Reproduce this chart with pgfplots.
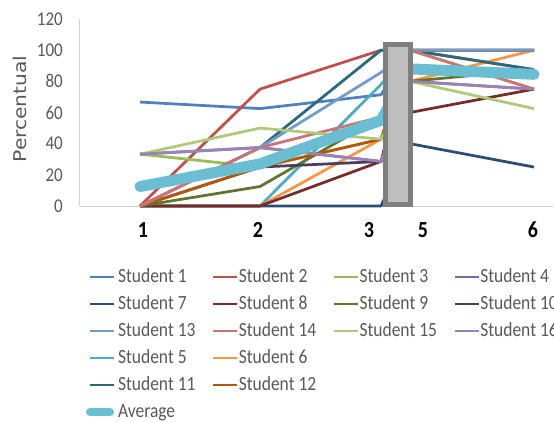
\documentclass[border=0pt]{standalone}
\usepackage{fontspec}
\setmainfont{Carlito}
\newfontfamily\dejavu{DejaVu Sans}
\usepackage{graphicx}
\usepackage{pgfplots}
\pgfplotsset{compat=1.18}
\definecolor{sA}{HTML}{4F81BD}
\definecolor{sB}{HTML}{C0504D}
\definecolor{sC}{HTML}{9BBB59}
\definecolor{sD}{HTML}{8064A2}
\definecolor{sE}{HTML}{4BACC6}
\definecolor{sF}{HTML}{F79646}
\definecolor{sG}{HTML}{2C4D75}
\definecolor{sH}{HTML}{772C2A}
\definecolor{sI}{HTML}{5F7530}
\definecolor{sJ}{HTML}{4D3B62}
\definecolor{sK}{HTML}{276A7C}
\definecolor{sL}{HTML}{B65708}
\definecolor{sM}{HTML}{729ACA}
\definecolor{sN}{HTML}{CD7371}
\definecolor{sO}{HTML}{AFC97A}
\definecolor{sP}{HTML}{9983B5}
\definecolor{avgc}{HTML}{6BBDD1}
\definecolor{txtgray}{HTML}{595959}
\definecolor{axgray}{HTML}{D0D0D0}
\definecolor{boxborder}{HTML}{7F7F7F}
\definecolor{boxfill}{HTML}{BFBFBF}
\newcommand{\st}[1]{\scalebox{1}[1.15]{#1}}
\newcommand{\lent}[1]{\makebox[94pt][l]{\st{#1}}}
\begin{document}
\begin{tikzpicture}[x=1pt,y=1pt]
\path[use as bounding box] (0,0) rectangle (554,421);
\begin{axis}[
  at={(80pt,215pt)}, anchor=south west,
  scale only axis, width=473pt, height=187pt,
  xmin=80, xmax=553, ymin=0, ymax=120,
  axis x line=bottom, axis y line=left,
  axis line style={draw=axgray, line width=1pt, -},
  xtick={143,258,369,423,533},
  xticklabels={\st{1},\st{2},\st{3},\st{5},\st{6}},
  ytick={0,20,40,60,80,100,120},
  yticklabels={\st{0},\st{20},\st{40},\st{60},\st{80},\st{100},\st{120}},
  major tick length=0pt,
  xticklabel style={font=\fontsize{20}{24}\selectfont\bfseries, text=black, anchor=center, yshift=-24pt, inner sep=0pt},
  yticklabel style={font=\fontsize{17}{20}\selectfont, text=txtgray, anchor=east, xshift=-17pt, inner sep=0pt},
  ylabel={\scalebox{1.15}[1]{Percentual}},
  ylabel style={at={(axis description cs:-0.1268,0.519)}, anchor=center, font=\dejavu\fontsize{17.6}{20}\selectfont, text=txtgray},
  clip=false,
  every axis plot/.append style={line width=2.75pt, line join=round, mark=none},
  legend columns=4,
  legend cell align=left,
  legend style={at={(axis description cs:0.0127,-0.3075)}, anchor=north west, draw=none, fill=none,
    inner sep=0pt, outer sep=0pt, row sep=0pt, font=\fontsize{17.5}{20}\selectfont, text=txtgray,
    nodes={inner sep=0pt, text height=19pt, text depth=8pt},
    /tikz/every odd column/.append style={column sep=0pt},
    /tikz/every even column/.append style={column sep=0pt}},
  legend image code/.code={\draw[#1] (0pt,0pt) -- (24pt,0pt);},
]
% series drawn in numeric order
\addplot[forget plot, color=sA] coordinates {(140,66.7) (260,62.5) (381,71.4) (410,100) (534,100)};
\addplot[forget plot, color=sB] coordinates {(140,0) (260,75) (381,100) (410,100) (534,87.5)};
\addplot[forget plot, color=sC] coordinates {(140,33.3) (260,25) (381,42.9) (410,100) (534,75)};
\addplot[forget plot, color=sD] coordinates {(140,33.3) (260,37.5) (381,28.6) (410,80) (534,75)};
\addplot[forget plot, color=sE] coordinates {(140,0) (260,0) (381,78) (410,100) (534,100)};
\addplot[forget plot, color=sF] coordinates {(140,0) (260,0) (381,42.9) (410,80) (534,100)};
\addplot[forget plot, color=sG] coordinates {(140,0) (260,0) (381,0) (410,40) (534,25)};
\addplot[forget plot, color=sH] coordinates {(140,0) (260,0) (381,28.6) (410,60) (534,75)};
\addplot[forget plot, color=sI] coordinates {(140,0) (260,12.5) (381,57.1) (410,80) (534,87.5)};
\addplot[forget plot, color=sJ] coordinates {(140,0) (260,25) (381,28.6) (410,100) (534,100)};
\addplot[forget plot, color=sK] coordinates {(140,0) (260,37.5) (381,100) (410,100) (534,87.5)};
\addplot[forget plot, color=sL] coordinates {(140,0) (260,25) (381,42.9) (410,100) (534,100)};
\addplot[forget plot, color=sM] coordinates {(140,0) (260,37.5) (381,85.7) (410,100) (534,100)};
\addplot[forget plot, color=sN] coordinates {(140,0) (260,37.5) (381,57.1) (410,100) (534,75)};
\addplot[forget plot, color=sO] coordinates {(140,33.3) (260,50) (381,42.9) (410,80) (534,62.5)};
\addplot[forget plot, color=sP] coordinates {(140,33.3) (260,37.5) (381,28.6) (410,80) (534,75)};
\addplot[forget plot, color=avgc, line width=11pt, line cap=round] coordinates {(140,12.5) (260,27) (381,55) (410,88) (534,84.5)};
% legend in the reference's order
\addlegendimage{color=sA, line width=2.75pt}\addlegendentry{\lent{Student 1}}
\addlegendimage{color=sB, line width=2.75pt}\addlegendentry{\lent{Student 2}}
\addlegendimage{color=sC, line width=2.75pt}\addlegendentry{\lent{Student 3}}
\addlegendimage{color=sD, line width=2.75pt}\addlegendentry{\lent{Student 4}}
\addlegendimage{color=sG, line width=2.75pt}\addlegendentry{\lent{Student 7}}
\addlegendimage{color=sH, line width=2.75pt}\addlegendentry{\lent{Student 8}}
\addlegendimage{color=sI, line width=2.75pt}\addlegendentry{\lent{Student 9}}
\addlegendimage{color=sJ, line width=2.75pt}\addlegendentry{\lent{Student 10}}
\addlegendimage{color=sM, line width=2.75pt}\addlegendentry{\lent{Student 13}}
\addlegendimage{color=sN, line width=2.75pt}\addlegendentry{\lent{Student 14}}
\addlegendimage{color=sO, line width=2.75pt}\addlegendentry{\lent{Student 15}}
\addlegendimage{color=sP, line width=2.75pt}\addlegendentry{\lent{Student 16}}
\addlegendimage{color=sE, line width=2.75pt}\addlegendentry{\lent{Student 5}}
\addlegendimage{color=sF, line width=2.75pt}\addlegendentry{\lent{Student 6}}
\addlegendimage{empty legend}\addlegendentry{}
\addlegendimage{empty legend}\addlegendentry{}
\addlegendimage{color=sK, line width=2.75pt}\addlegendentry{\lent{Student 11}}
\addlegendimage{color=sL, line width=2.75pt}\addlegendentry{\lent{Student 12}}
\addlegendimage{empty legend}\addlegendentry{}
\addlegendimage{empty legend}\addlegendentry{}
\addlegendimage{color=avgc, line width=8pt, line cap=round, shorten >=4pt}\addlegendentry{\lent{Average}}
\draw[line width=5pt, draw=boxborder, fill=boxfill] (axis cs:385.5,0.96) rectangle (axis cs:410.5,103.64);
\end{axis}
\end{tikzpicture}
\end{document}
